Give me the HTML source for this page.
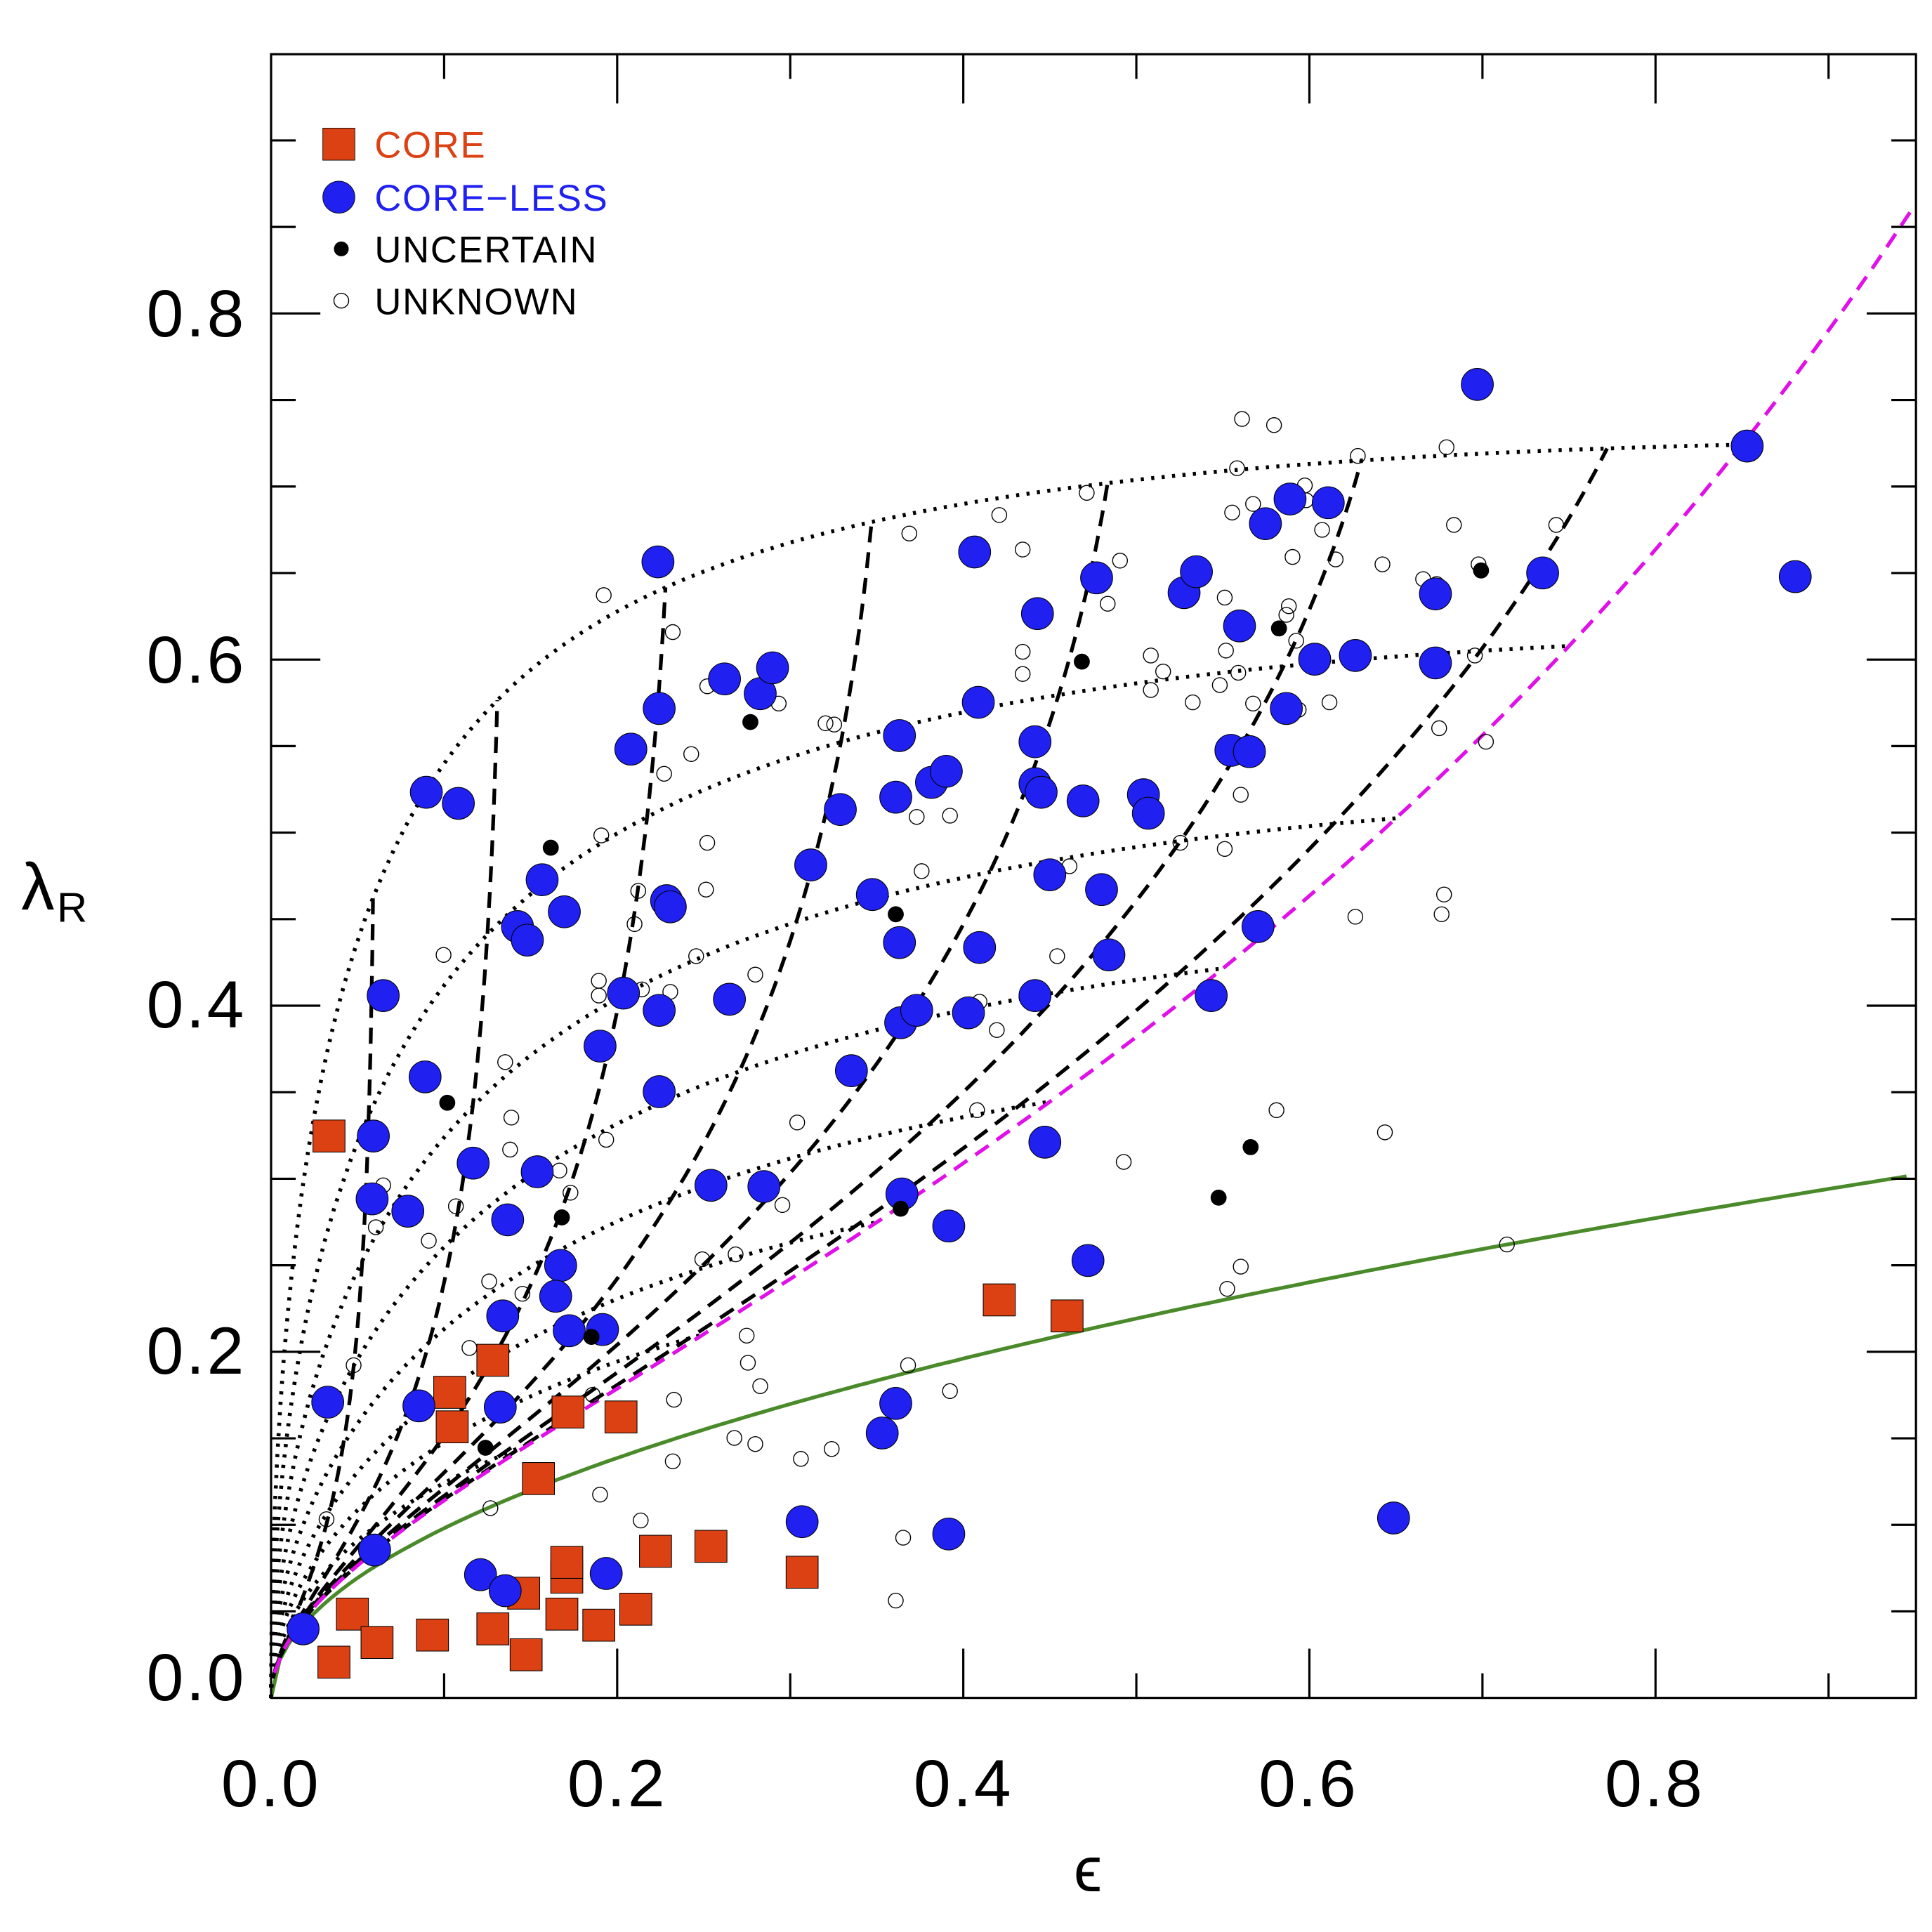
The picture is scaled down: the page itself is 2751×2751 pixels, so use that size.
<!DOCTYPE html>
<html><head><meta charset="utf-8"><style>html,body{margin:0;padding:0;background:#fff}svg{display:block}</style></head>
<body>
<svg id="s" xmlns="http://www.w3.org/2000/svg" width="2751" height="2751" viewBox="0 0 1568 1568">
<rect width="1568" height="1568" fill="#fff"/>
<g id="curves"></g>
<g id="pts"></g>
<rect x="220" y="44" width="1335" height="1334" fill="none" stroke="#000" stroke-width="1.8"/>
<g id="ticks" stroke="#000" stroke-width="1.8"></g>
<g font-family="Liberation Sans, sans-serif" font-size="54" fill="#000" text-anchor="end" letter-spacing="2">
<text x="200" y="1380">0.0</text><text x="200" y="1115">0.2</text><text x="200" y="834">0.4</text><text x="200" y="554">0.6</text><text x="200" y="273">0.8</text>
</g>
<g font-family="Liberation Sans, sans-serif" font-size="54" fill="#000" text-anchor="middle" letter-spacing="2">
<text x="220" y="1466">0.0</text><text x="501" y="1466">0.2</text><text x="782" y="1466">0.4</text><text x="1062" y="1466">0.6</text><text x="1343" y="1466">0.8</text>
<text x="884" y="1535" font-size="52">ϵ</text>
<text x="45" y="738" font-size="54">λ<tspan font-size="34" dy="10">R</tspan></text>
</g>
<g font-family="Liberation Sans, sans-serif" font-size="30" letter-spacing="1">
<rect x="262" y="104" width="26" height="26" fill="#dc4114" stroke="#000" stroke-width="0.5"/>
<text x="304" y="128" fill="#dc4114">CORE</text>
<circle cx="275" cy="160" r="13" fill="#2020f0" stroke="#000" stroke-width="0.5"/>
<text x="304" y="171" fill="#2020f0">CORE−LESS</text>
<circle cx="277" cy="202" r="6" fill="#000"/>
<text x="304" y="213" fill="#000">UNCERTAIN</text>
<circle cx="277" cy="244" r="6" fill="none" stroke="#000" stroke-width="0.8"/>
<text x="304" y="255" fill="#000">UNKNOWN</text>
</g>
</svg>
<script>
var NS="http://www.w3.org/2000/svg";
function X(e){return 220+e*1404.5}function Y(l){return 1378-l*1404.5}
function el(p,t,a){var e=document.createElementNS(NS,t);for(var k in a)e.setAttribute(k,a[k]);p.appendChild(e);return e}
var T=document.getElementById('ticks');
for(var i=1;i<=9;i++){var x=X(i*0.1);var L=(i%2==0)?40:20;el(T,'line',{x1:x,y1:1378,x2:x,y2:1378-L});el(T,'line',{x1:x,y1:44,x2:x,y2:44+L});}
for(var i=1;i<=18;i++){var y=Y(i*0.05);var L=(i%4==0)?40:20;el(T,'line',{x1:220,y1:y,x2:220+L,y2:y});el(T,'line',{x1:1555,y1:y,x2:1555-L,y2:y});}
function omega(eps){var q=1-eps;var e=Math.sqrt(1-q*q);var a=Math.asin(e),s=Math.sqrt(1-e*e);return 0.5*(a-e*s)/(e*s-(1-e*e)*a);}
function vsEdge(eps){var d=0.7*eps;var O=(1-d)*omega(eps);var v=(O-1)/(0.15*O+1);return v>0?Math.sqrt(v):0;}
function lam(v){return 1.1*v/Math.sqrt(1+1.21*v*v)}
function proj(ei,inc){var q=1-ei;var s=Math.sin(inc),c=Math.cos(inc);var qo=Math.sqrt(q*q*s*s+c*c);var d=0.7*ei;var v=vsEdge(ei)*s/Math.sqrt(1-d*c*c);return [1-qo,lam(v)];}
var C=document.getElementById('curves');
function path(pts){return 'M'+pts.map(function(p){return X(p[0]).toFixed(1)+','+Y(p[1]).toFixed(1)}).join('L')}
var g=[];for(var e=0;e<=0.95;e+=0.005)g.push([e,0.31*Math.sqrt(e)]);
el(C,'path',{d:path(g),fill:'none',stroke:'#4a8a2a','stroke-width':3});
[0.05,0.15,0.25,0.35,0.45,0.55,0.65,0.75,0.85].forEach(function(ei){var p=[];for(var k=0;k<=90;k++)p.push(proj(ei,k*Math.PI/180));
el(C,'path',{d:path(p),fill:'none',stroke:'#000','stroke-width':3.2,'stroke-dasharray':'2.5 6'});});
[20,30,40,50,60,70,80].forEach(function(inc){var p=[];for(var ei=0.01;ei<=0.8501;ei+=0.01)p.push(proj(ei,inc*Math.PI/180));
el(C,'path',{d:path(p),fill:'none',stroke:'#000','stroke-width':3,'stroke-dasharray':'13 8'});});
var m=[];for(var ei=0.002;ei<=0.95;ei+=0.005)m.push([ei,lam(vsEdge(ei))]);
el(C,'path',{d:path(m),fill:'none',stroke:'#e010e8','stroke-width':3,'stroke-dasharray':'13 8'});
var P=document.getElementById('pts');
var open=[[490,483],[546,513],[574,557],[632,571],[670,587],[677,588],[539,628],[561,612],[574,684],[573,722],[518,723],[488,678],[360,775],[410,862],[415,907],[414,933],[370,979],[311,962],[305,996],[348,1007],[463,968],[454,950],[492,925],[486,796],[486,808],[515,750],[521,803],[544,805],[565,776],[613,791],[647,911],[635,978],[570,1022],[597,1018],[606,1084],[607,1106],[617,1125],[596,1167],[613,1172],[650,1184],[675,1176],[547,1136],[546,1186],[520,1234],[487,1213],[481,1132],[398,1224],[381,1094],[397,1040],[424,1050],[287,1108],[265,1233],[738,433],[748,707],[744,663],[771,662],[811,418],[830,446],[830,547],[830,529],[882,400],[899,490],[909,455],[934,532],[934,560],[944,545],[968,570],[958,684],[795,813],[809,836],[793,901],[858,776],[868,703],[737,1108],[733,1248],[727,1299],[771,1129],[912,943],[1008,340],[1034,345],[1045,410],[1004,380],[1017,409],[1000,416],[994,485],[995,528],[990,556],[1005,546],[1017,571],[1007,645],[1018,615],[994,689],[1049,452],[1046,492],[1052,520],[1059,394],[1060,406],[1044,499],[1054,576],[1073,430],[1084,454],[1079,570],[1102,370],[1122,458],[1155,470],[1166,474],[1174,363],[1180,426],[1197,532],[1200,458],[1206,602],[1263,426],[1168,591],[1172,726],[1170,742],[1100,744],[1036,901],[1124,919],[1007,1028],[996,1046],[1223,1010]];
open.forEach(function(p){el(P,'circle',{cx:p[0],cy:p[1],r:6,fill:'none',stroke:'#000','stroke-width':0.8})});
var sq=[[267,922],[271,1349],[286,1310],[306,1333],[351,1327],[400,1322],[425,1293],[427,1343],[456,1310],[486,1319],[516,1306],[532,1259],[577,1255],[460,1280],[460,1268],[437,1200],[461,1146],[504,1150],[365,1130],[367,1158],[400,1104],[651,1276],[811,1055],[866,1068]];
sq.forEach(function(p){el(P,'rect',{x:p[0]-13,y:p[1]-13,width:26,height:26,fill:'#dc4114',stroke:'#000','stroke-width':0.6})});
var bl=[[534,456],[346,643],[372,652],[311,808],[345,874],[303,922],[302,973],[331,983],[384,944],[412,990],[436,951],[440,714],[458,740],[420,752],[428,763],[455,1027],[451,1052],[462,1080],[408,1068],[406,1142],[340,1141],[266,1138],[304,1258],[246,1322],[390,1278],[410,1291],[492,1277],[489,1079],[487,849],[506,806],[535,820],[535,886],[512,608],[535,575],[588,551],[617,563],[627,542],[541,731],[544,736],[592,811],[577,962],[620,963],[658,702],[682,657],[691,869],[708,726],[730,597],[727,647],[756,635],[768,626],[730,765],[731,830],[744,820],[786,822],[795,769],[794,570],[791,448],[732,969],[770,995],[727,1139],[716,1163],[651,1235],[770,1245],[840,602],[842,498],[840,636],[845,643],[840,808],[879,650],[852,710],[894,722],[900,775],[848,927],[883,1023],[890,469],[928,645],[932,660],[961,481],[971,464],[983,808],[1021,752],[1006,508],[999,609],[1014,610],[1027,425],[1044,575],[1067,535],[1047,405],[1078,408],[1100,532],[1165,482],[1165,538],[1252,465],[1199,312],[1418,362],[1457,468],[1131,1232]];
bl.forEach(function(p){el(P,'circle',{cx:p[0],cy:p[1],r:13,fill:'#2020f0',stroke:'#000','stroke-width':0.6})});
var bk=[[447,688],[363,895],[609,586],[727,742],[878,537],[456,988],[480,1085],[394,1175],[731,981],[989,972],[1015,931],[1038,510],[1202,463]];
bk.forEach(function(p){el(P,'circle',{cx:p[0],cy:p[1],r:6.5,fill:'#000'})});
</script>
</body></html>
